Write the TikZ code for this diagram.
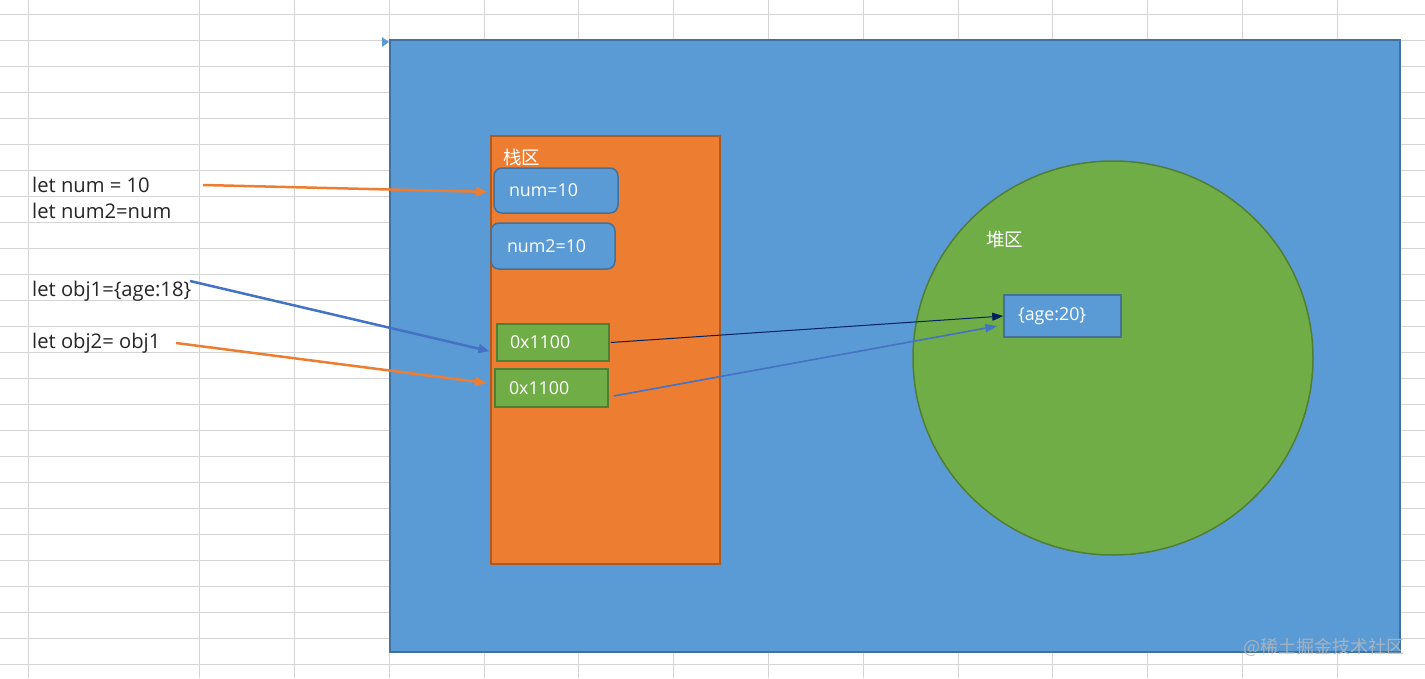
\documentclass[tikz,border=0pt]{standalone}
\usepackage{fontspec}
\setmainfont{Open Sans}
\newfontfamily\cjk{Noto Sans CJK SC}
\usetikzlibrary{arrows.meta,calc,shapes.geometric}
\definecolor{gridc}{HTML}{D4D4D4}
\definecolor{bluef}{HTML}{5B9BD5}
\definecolor{blued}{HTML}{41719C}
\definecolor{orangef}{HTML}{ED7D31}
\definecolor{oranged}{HTML}{AE5A21}
\definecolor{greenf}{HTML}{70AD47}
\definecolor{greend}{HTML}{507E32}
\definecolor{arrblue}{HTML}{4472C4}
\definecolor{navy}{HTML}{002060}
\definecolor{txt}{HTML}{262626}
\tikzset{
  gridline/.style={draw=gridc, line width=1pt},
  codetext/.style={anchor=base west, inner sep=0pt, text=txt, font=\fontsize{20.2}{23}\selectfont},
  valbox/.style={draw=blued, line width=1.5pt, fill=bluef, rounded corners=8pt, text=white,
     font=\fontsize{17.8}{20}\selectfont, align=left, inner ysep=0pt, anchor=center},
  addrbox/.style={draw=greend, line width=1.5pt, fill=greenf, text=white,
     font=\fontsize{17.8}{20}\selectfont, align=left, inner ysep=0pt, anchor=center},
  objbox/.style={draw=blued, line width=1.5pt, fill=bluef, text=white,
     font=\fontsize{17.8}{20}\selectfont, align=left, inner ysep=0pt, anchor=center},
  arealabel/.style={text=white, inner sep=0pt, font=\cjk\fontsize{18.5}{20}\selectfont},
  thickarrow/.style={line width=2.5pt, -{Triangle[length=11pt,width=9pt]}},
}
\begin{document}
\begin{tikzpicture}[x=1pt,y=-1pt]
\useasboundingbox (0,0) rectangle (1425,678);
\fill[white] (0,0) rectangle (1425,678);
% spreadsheet grid
\foreach \k in {0,...,25} {
  \draw[gridline] (0,{14.3+26*\k}) -- (1425,{14.3+26*\k});
}
\foreach \xx in {28.5,199.5,294.5} {
  \draw[gridline] (\xx,0) -- (\xx,678);
}
\foreach \k in {0,...,10} {
  \draw[gridline] ({389.3+94.8*\k},0) -- ({389.3+94.8*\k},678);
}
% memory
\node[draw=blued, line width=2pt, fill=bluef, minimum width=1010pt, minimum height=612pt,
      inner sep=0pt, anchor=north west] (mem) at (389,39) {};
\fill[bluef] (382,37) -- (389,42) -- (382,47) -- cycle;
% stack area
\node[draw=oranged, line width=1.5pt, fill=orangef, minimum width=229pt, minimum height=428pt,
      inner sep=0pt, anchor=north west] (stack) at (490,135) {};
\node[arealabel, anchor=west] (stacklbl) at (503,157) {栈区};
\node[valbox, inner xsep=15pt, text width=94pt, minimum height=45pt] (num) at (556,190.5) {num=10};
\node[valbox, inner xsep=16pt, text width=92pt, minimum height=46pt] (numtwo) at (553,246) {num2=10};
\node[addrbox, inner xsep=13pt, text width=86pt, minimum height=37pt] (addrone) at (553,342.5) {0x1100};
\node[addrbox, inner xsep=14pt, text width=85pt, minimum height=38pt] (addrtwo) at (551.5,388) {0x1100};
% heap area
\node[draw=greend, line width=1.5pt, fill=greenf, ellipse, minimum width=400pt, minimum height=394pt,
      inner sep=0pt] (heap) at (1113,358) {};
\node[arealabel, anchor=west] (heaplbl) at (986,240) {堆区};
\node[objbox, inner xsep=14pt, text width=89pt, minimum height=42pt] (obj) at (1062.5,316) {\{age:20\}};
% code
\node[codetext] (c1) at (32,192) {let num = 10};
\node[codetext] (c2) at (32,218.3) {let num2=num};
\node[codetext] (c3) at (32,296) {let obj1=\{age:18\}};
\node[codetext] (c4) at (32,348) {let obj2= obj1};
\coordinate (s1) at (203,185);
\coordinate (s2) at (190,281);
\coordinate (s3) at (176,343);
% arrows
\draw[thickarrow, draw=orangef, fill=orangef, shorten >=6pt] (s1) -- ([yshift=-1.5pt]num.west);
\draw[thickarrow, draw=arrblue, fill=arrblue, shorten >=7pt] (s2) -- ([yshift=9pt]addrone.south west);
\draw[thickarrow, draw=orangef, fill=orangef, shorten >=8pt] (s3) -- ([yshift=4pt]addrtwo.west);
\draw[navy, line width=1pt, -{Triangle[length=11pt,width=8pt]}] ([xshift=1pt]addrone.east) -- (obj.west);
\draw[arrblue, line width=1.6pt, -{Triangle[length=12pt,width=8pt]}] ([xshift=5pt,yshift=-8pt]addrtwo.east) -- ([xshift=-6pt,yshift=-10pt]obj.west);
% watermark
\node[anchor=west, inner sep=0pt, text=gray!55, opacity=0.8, font=\cjk\fontsize{18}{20}\selectfont] (wm) at (1243,647) {@稀土掘金技术社区};
\end{tikzpicture}
\end{document}
